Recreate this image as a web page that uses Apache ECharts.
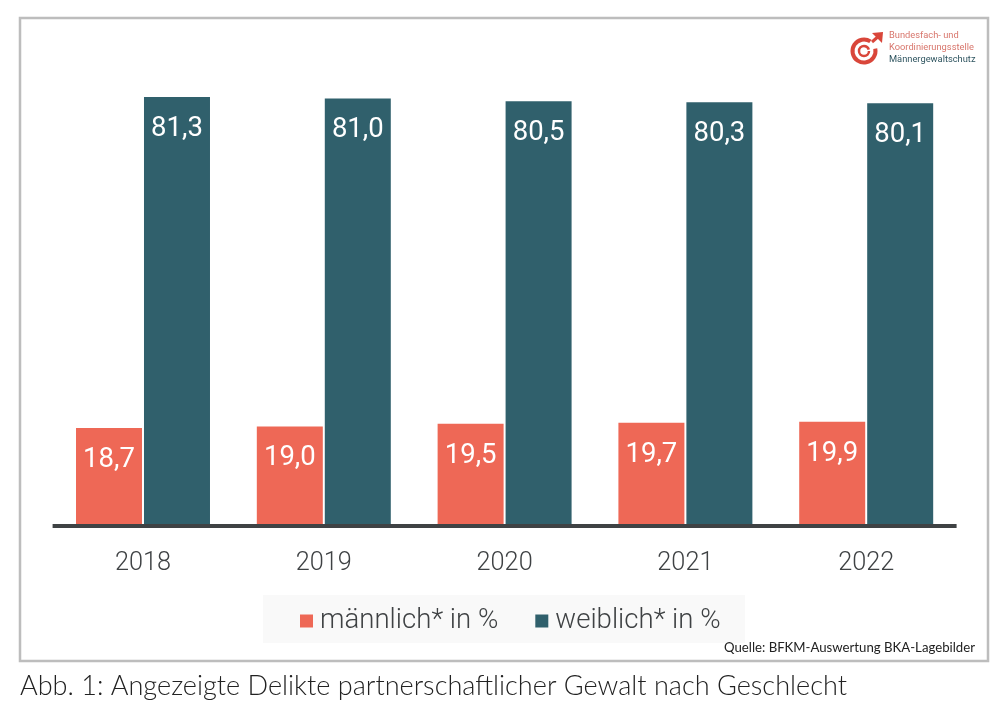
<!DOCTYPE html>
<html><head><meta charset="utf-8">
<style>html,body{margin:0;padding:0;background:#fff}#c{width:1007px;height:710px}</style>
<script src="https://cdn.jsdelivr.net/npm/echarts@6/dist/echarts.min.js"></script></head>
<body><div id="c"></div>
<script>
const years = ['2018','2019','2020','2021','2022'];
const maleValues = [18.7,19.0,19.5,19.7,19.9];
const femaleValues = [81.3,81.0,80.5,80.3,80.1];
const maleName = 'männlich* in %';
const femaleName = 'weiblich* in %';
const captionText = 'Abb. 1: Angezeigte Delikte partnerschaftlicher Gewalt nach Geschlecht';
const sourceText = 'Quelle: BFKM-Auswertung BKA-Lagebilder';
const logoLines = ['Bundesfach- und','Koordinierungsstelle','Männergewaltschutz'];
const RED='#ee6856', TEAL='#30606c', DARK='#3f4244';
const chart = echarts.init(document.getElementById('c'),null,{renderer:'canvas'});
const lab = {show:true,position:'insideTop',distance:18,color:'#fff',fontFamily:'Roboto',fontSize:27.5,
  formatter:p=>p.value.toFixed(1).replace('.',',')};
chart.setOption({
  animation:false,
  backgroundColor:'#fff',
  grid:{left:52.6,right:50.4,top:51,bottom:183,containLabel:false},
  xAxis:{type:'category',data:years,offset:-1,z:5,
    axisLine:{lineStyle:{color:DARK,width:4,cap:'butt'}},axisTick:{show:false},
    axisLabel:{color:DARK,fontFamily:'Roboto',fontWeight:300,fontSize:25.3,margin:25}},
  yAxis:{type:'value',min:0,max:90,show:false,splitLine:{show:false}},
  legend:{left:300,top:607,padding:[0,0,0,0],itemGap:37,itemWidth:13,itemHeight:13,icon:'rect',
    textStyle:{color:DARK,fontFamily:'Roboto',fontWeight:300,fontSize:27.6,padding:[0,0,0,2]},
    data:[maleName,femaleName]},
  series:[
    {name:maleName,type:'bar',data:maleValues,barWidth:66,barGap:'3%',itemStyle:{color:RED},label:lab,z:1},
    {name:femaleName,type:'bar',data:femaleValues,barWidth:66,barGap:'3%',itemStyle:{color:TEAL},label:lab,z:1}
  ],
  graphic:[
    {type:'rect',z:-1,shape:{x:20,y:18,width:968,height:643},style:{fill:'none',stroke:'#bdbdbd',lineWidth:2.5}},
    {type:'rect',z:-1,shape:{x:263,y:595,width:482,height:48},style:{fill:'#f9f9f9'}},
    {type:'text',left:20,top:673,style:{text:captionText,fontFamily:'Lato',fontWeight:300,fontSize:27.1,fill:'#222'}},
    {type:'text',left:724,top:641,style:{text:sourceText,fontFamily:'Lato',fontSize:13.2,fill:'#222'}},
    {type:'arc',shape:{cx:864,cy:51,r:11.5,startAngle:-0.2,endAngle:5.3},style:{stroke:'#d9463a',fill:'none',lineWidth:4}},
    {type:'arc',shape:{cx:864,cy:51,r:5,startAngle:0,endAngle:6.0},style:{stroke:'#d9463a',fill:'none',lineWidth:2.5}},
    {type:'line',shape:{x1:872,y1:42,x2:880,y2:35},style:{stroke:'#d9463a',lineWidth:3}},
    {type:'polygon',shape:{points:[[872,33],[883,32],[882,43]]},style:{fill:'#d9463a'}},
    {type:'text',left:889,top:31,style:{text:logoLines[0],fontFamily:'Roboto',fontSize:9.3,fill:'#d8766c'}},
    {type:'text',left:889,top:43,style:{text:logoLines[1],fontFamily:'Roboto',fontSize:9.3,fill:'#d8766c'}},
    {type:'text',left:889,top:55,style:{text:logoLines[2],fontFamily:'Roboto',fontSize:9.3,fill:'#2f5560'}}
  ]
});
</script></body></html>
